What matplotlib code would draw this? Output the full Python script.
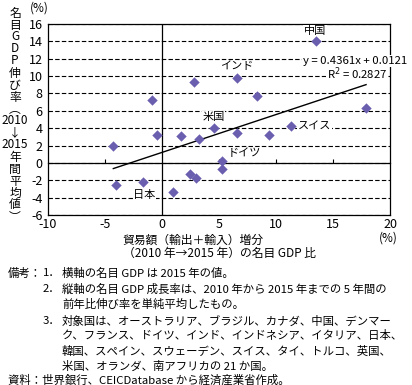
import numpy as np
import matplotlib
matplotlib.use("Agg")
import matplotlib.pyplot as plt

plt.rcParams['font.family'] = ['Noto Sans CJK JP', 'DejaVu Sans']
plt.rcParams['axes.unicode_minus'] = False

# data (x: trade increase / GDP %, y: nominal GDP growth %)
trade_x = [13.5, 6.6, 2.8, -0.85, 8.3, 17.9, 4.56, 6.55, 9.4, 11.3, 5.26,
           5.3, -4.27, -0.47, 1.64, 3.25, -4.0, -1.64, 1.0, 2.46, 2.96]
gdp_y = [14.05, 9.8, 9.3, 7.26, 7.7, 6.3, 4.0, 3.5, 3.2, 4.2, 0.2,
         -0.65, 2.0, 3.2, 3.1, 2.76, -2.5, -2.2, -3.3, -1.27, -1.73]
slope = 0.4361
intercept = 1.21   # 0.0121 as a fraction -> percent
eq_text = "y = 0.4361x + 0.0121"
r2_text = "R$^2$ = 0.2827"

x_ticks = [-10, -5, 0, 5, 10, 15, 20]
y_ticks = [-6, -4, -2, 0, 2, 4, 6, 8, 10, 12, 14, 16]

W, H = 412, 385
fig = plt.figure(figsize=(W / 100, H / 100), dpi=100)
ax = fig.add_axes([48 / W, 1 - 215 / H, (390 - 48) / W, (215 - 24) / H])

purple = '#6a5fae'
ax.set_xlim(-10, 20)
ax.set_ylim(-6, 16)
ax.set_xticks(x_ticks)
ax.set_yticks(y_ticks)
ax.tick_params(axis='both', length=0, labelsize=9, pad=4)
ax.tick_params(axis='x', pad=2)
for s in ax.spines.values():
    s.set_linewidth(0.9)
ax.set_axisbelow(True)
ax.yaxis.grid(True, color='black', lw=0.8, linestyle=(0, (4, 2)))

# zero lines
ax.axvline(0, color='black', lw=0.9, zorder=1)
sec = ax.secondary_xaxis(6 / 22)
sec.set_xticks([-5, 5, 10, 15])
sec.tick_params(direction='in', length=3, width=0.8, labelsize=0)
sec.set_xticklabels([])
sec.spines['bottom'].set_linewidth(0.9)

# trend line over the data range
xl = np.array([min(trade_x), max(trade_x)])
ax.plot(xl, slope * xl + intercept, color='black', lw=1.0, zorder=2)

ax.scatter(trade_x, gdp_y, marker='D', s=28, color=purple, zorder=4, linewidths=0)

box = dict(facecolor='white', edgecolor='none', pad=0.5)
ax.text(13.4, 15.2, "中国", fontsize=8, ha='center', va='center', bbox=box)
ax.text(6.55, 11.1, "インド", fontsize=8, ha='center', va='center', bbox=box)
ax.text(4.5, 5.3, "米国", fontsize=8, ha='center', va='center', bbox=box)
ax.text(11.9, 4.2, "スイス", fontsize=8, ha='left', va='center', bbox=box)
ax.text(7.2, 1.1, "ドイツ", fontsize=8, ha='center', va='center', bbox=box)
ax.text(-1.55, -3.75, "日本", fontsize=8, ha='center', va='center', bbox=box)
ax.text(16.9, 11.75, eq_text, fontsize=8.2, ha='center', va='center',
        bbox=box, clip_on=False)
ax.text(17.1, 10.25, r2_text, fontsize=8.2, ha='center', va='center', bbox=box)


def ftext(x, y, s, **kw):
    fig.text(x / W, 1 - y / H, s, **kw)


# vertical y label, one character per row
ylab = ["名", "目", "G", "D", "P", "伸", "び", "率", "︵", "2010", "↓", "2015",
        "年", "間", "平", "均", "値", "︶"]
y0, y1 = 13, 217
for i, ch in enumerate(ylab):
    ftext(15, y0 + i * (y1 - y0) / (len(ylab) - 1), ch, fontsize=8.5,
          ha='center', va='center')
ftext(39, 8, "(%)", fontsize=8.5, ha='center', va='center')

ftext(122, 240, "貿易額（輸出＋輸入）増分", fontsize=8.5, ha='left', va='center')
ftext(123, 253, "（2010 年→2015 年）の名目 GDP 比", fontsize=8.5, ha='left', va='center')
ftext(388, 238, "(%)", fontsize=8.5, ha='center', va='center')

notes = [
    (8, 273, "備考："),
    (43, 273, "1．"),
    (62, 273, "横軸の名目 GDP は 2015 年の値。"),
    (43, 289, "2．"),
    (62, 289, "縦軸の名目 GDP 成長率は、2010 年から 2015 年までの 5 年間の"),
    (62, 304, "前年比伸び率を単純平均したもの。"),
    (43, 321, "3．"),
    (62, 321, "対象国は、オーストラリア、ブラジル、カナダ、中国、デンマー"),
    (62, 336, "ク、フランス、ドイツ、インド、インドネシア、イタリア、日本、"),
    (62, 351, "韓国、スペイン、スウェーデン、スイス、タイ、トルコ、英国、"),
    (62, 366, "米国、オランダ、南アフリカの 21 か国。"),
    (8, 380, "資料：世界銀行、CEICDatabase から経済産業省作成。"),
]
for x, y, s in notes:
    ftext(x, y, s, fontsize=8.2, ha='left', va='center')

fig.savefig("out.png", dpi=100)
